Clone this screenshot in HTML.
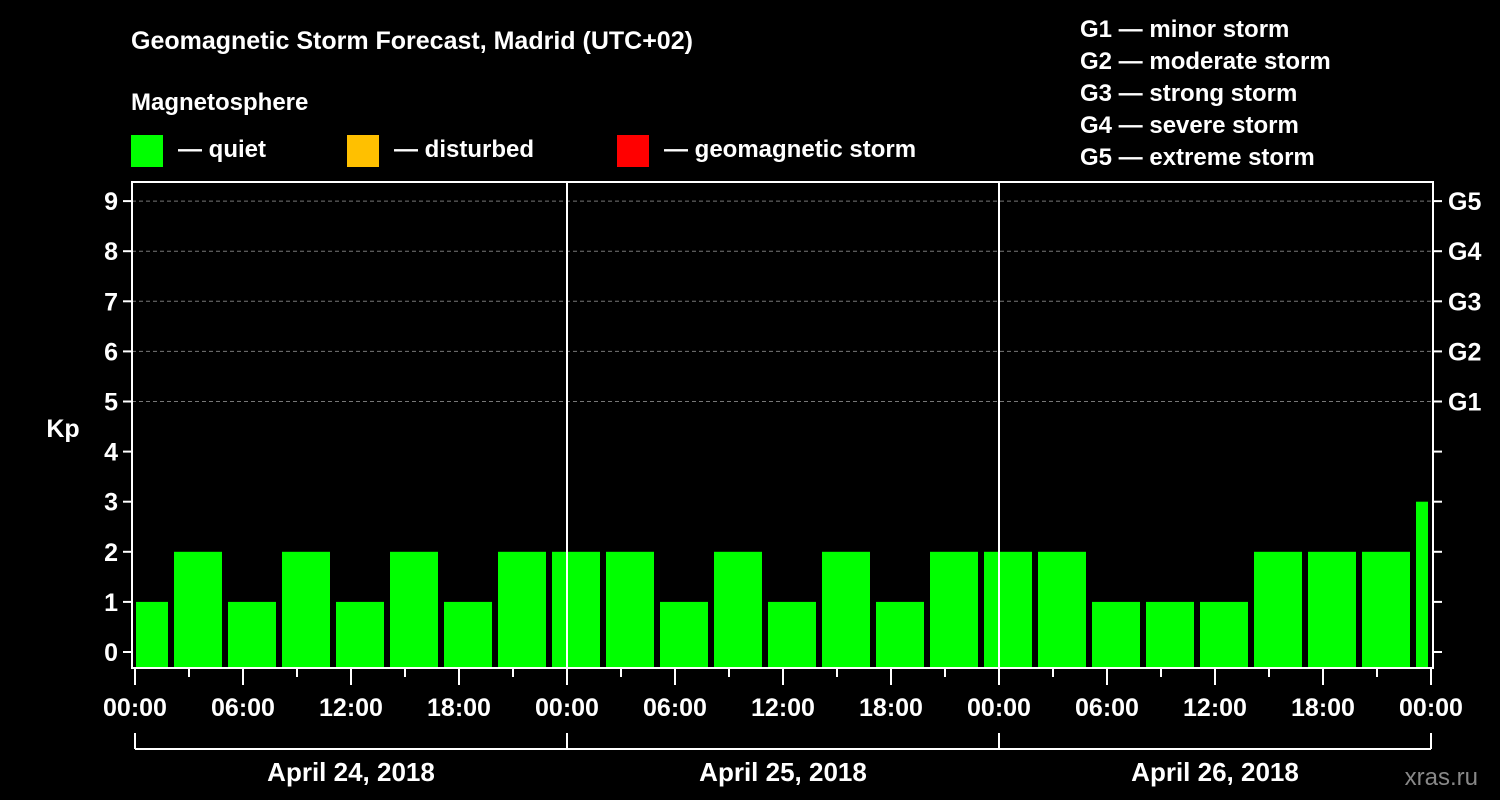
<!DOCTYPE html>
<html><head><meta charset="utf-8"><style>
body{margin:0;background:#000;width:1500px;height:800px;overflow:hidden}
svg{display:block;font-family:"Liberation Sans",Arial,sans-serif;font-weight:bold}
</style></head><body>
<svg id="c" width="1500" height="800" xmlns="http://www.w3.org/2000/svg">
<rect width="1500" height="800" fill="#000"/>
<text x="131" y="49" fill="#fff" font-size="25">Geomagnetic Storm Forecast, Madrid (UTC+02)</text>
<text x="131" y="110" fill="#fff" font-size="24">Magnetosphere</text>
<g><rect x="131" y="135" width="32" height="32" fill="#00ff00"/><text x="178" y="157" fill="#fff" font-size="24">— quiet</text></g>
<g><rect x="347" y="135" width="32" height="32" fill="#ffc000"/><text x="394" y="157" fill="#fff" font-size="24">— disturbed</text></g>
<g><rect x="617" y="135" width="32" height="32" fill="#ff0000"/><text x="664" y="157" fill="#fff" font-size="24">— geomagnetic storm</text></g>
<g fill="#fff" font-size="24">
<text x="1080" y="37">G1 — minor storm</text>
<text x="1080" y="69">G2 — moderate storm</text>
<text x="1080" y="101">G3 — strong storm</text>
<text x="1080" y="133">G4 — severe storm</text>
<text x="1080" y="165">G5 — extreme storm</text>
</g>
<text x="63" y="437" fill="#fff" font-size="25" text-anchor="middle">Kp</text>
<text x="1478" y="785" fill="#888" font-size="24" text-anchor="end" font-weight="normal">xras.ru</text>
<g id="plot"></g>
</svg>
<script>
const kpValues=[1,2,1,2,1,2,1,2,2,2,1,2,1,2,1,2,2,2,1,1,1,2,2,2,3];
const slotStartHours=[0,2,5,8,11,14,17,20,23,26,29,32,35,38,41,44,47,50,53,56,59,62,65,68,71];
const slotEndHours=[2,5,8,11,14,17,20,23,26,29,32,35,38,41,44,47,50,53,56,59,62,65,68,71,72];
const yTicks=[0,1,2,3,4,5,6,7,8,9];
const gLabels=["","","","","","G1","G2","G3","G4","G5"];
const timeLabels=["00:00","06:00","12:00","18:00"];
const dayLabels=["April 24, 2018","April 25, 2018","April 26, 2018"];
const NS="http://www.w3.org/2000/svg";
const X0=135,PXH=18,Y0=652,PXK=50.1,L=132,R=1433,T=182,B=668;
const xs=h=>X0+h*PXH, ys=k=>Y0-k*PXK;
const g=document.getElementById('plot');
function mk(t,a,p){const e=document.createElementNS(NS,t);for(const k in a)e.setAttribute(k,a[k]);(p||g).appendChild(e);return e;}
// grid
for(const k of yTicks){if(k>=5){const l=mk('line',{x1:L,x2:R,y1:ys(k),y2:ys(k),stroke:'#777','stroke-dasharray':'4,3','stroke-width':1});

}}
// bars
kpValues.forEach((v,i)=>{const x1=xs(slotStartHours[i])+(i==0?1:3),x2=xs(slotEndHours[i])-3;
const c=v>=5?'#ff0000':(v>=4?'#ffc000':'#00ff00');
const r=mk('rect',{x:x1,y:ys(v),width:x2-x1,height:B-ys(v),fill:c});

});
// day separators
for(let d=1;d<3;d++){const l=mk('line',{x1:xs(24*d),x2:xs(24*d),y1:T,y2:B,stroke:'#fff','stroke-width':2});

}
// axes frame
const f=mk('rect',{x:L,y:T,width:R-L,height:B-T,fill:'none',stroke:'#fff','stroke-width':2});


// y ticks
for(const k of yTicks){const y=ys(k);
mk('line',{x1:L-9,x2:L,y1:y,y2:y,stroke:'#fff','stroke-width':2});
mk('line',{x1:R,x2:R+9,y1:y,y2:y,stroke:'#fff','stroke-width':2});
const t=mk('text',{x:L-14,y:y+9,fill:'#fff','font-size':25,'text-anchor':'end'});t.textContent=k;


if(gLabels[k]){const t2=mk('text',{x:R+15,y:y+9,fill:'#fff','font-size':25});t2.textContent=gLabels[k];

}}
// x ticks
for(let h=0;h<=72;h+=3){const major=h%6==0;mk('line',{x1:xs(h),x2:xs(h),y1:B,y2:B+(major?17:9),stroke:'#fff','stroke-width':2});
if(major){const t=mk('text',{x:xs(h),y:716,fill:'#fff','font-size':25,'text-anchor':'middle'});t.textContent=timeLabels[(h/6)%4];

}}
// day bracket
mk('line',{x1:xs(0),x2:xs(72),y1:749,y2:749,stroke:'#fff','stroke-width':2});
for(let d=0;d<=3;d++)mk('line',{x1:xs(24*d),x2:xs(24*d),y1:733,y2:749,stroke:'#fff','stroke-width':2});
dayLabels.forEach((s,d)=>{const t=mk('text',{x:xs(24*d+12),y:781,fill:'#fff','font-size':26,'text-anchor':'middle'});t.textContent=s;

});
</script>
</body></html>
